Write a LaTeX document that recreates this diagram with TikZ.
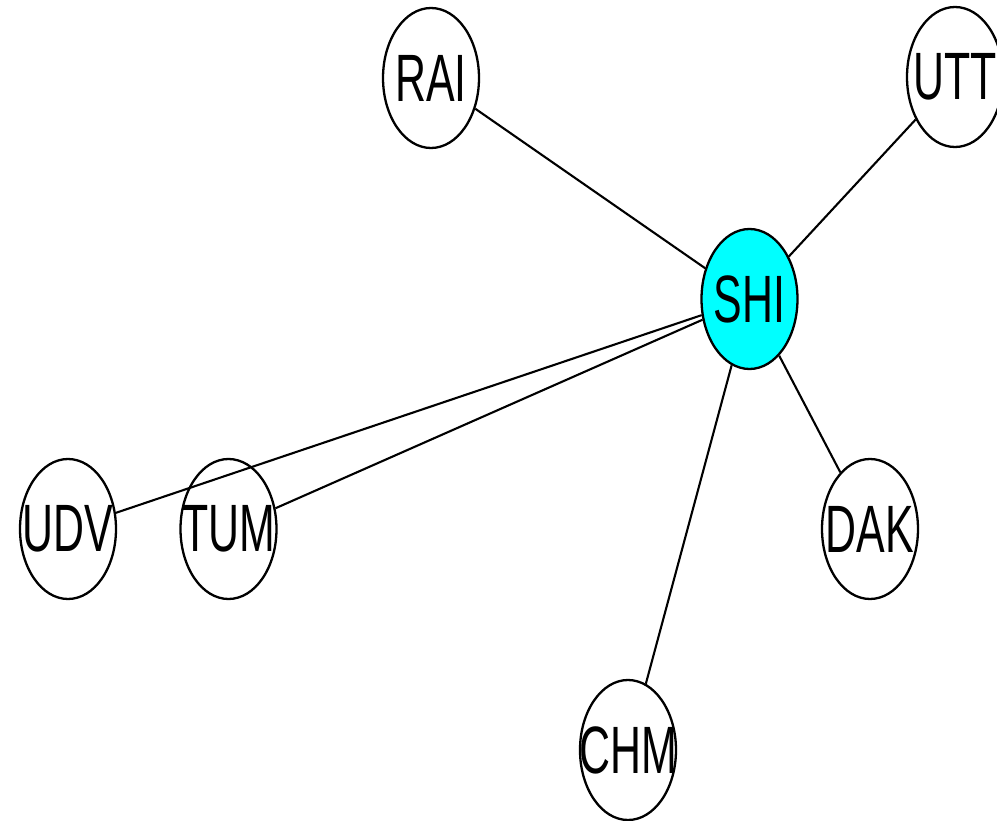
\documentclass[tikz,border=0pt]{standalone}
\usepackage{fontspec}
\setmainfont{Liberation Sans}
\usetikzlibrary{shapes.geometric}
\definecolor{hubcyan}{RGB}{0,255,255}
\begin{document}
\begin{tikzpicture}[x=1pt,y=-1pt,
  vert/.style={ellipse, draw=black, line width=2.3pt, minimum width=96pt, minimum height=140pt, inner sep=0pt},
  hub/.style={vert, fill=hubcyan},
  lbl/.style={font=\fontsize{67}{67}\selectfont},
  edge/.style={draw=black, line width=2.1pt}]
\useasboundingbox (0,0) rectangle (997,821);
\newcommand{\vtxt}[1]{\scalebox{0.64}[1]{#1}}
% vertices
\node[hub] (SHI) at (749.5,299) {};
\node[vert] (RAI) at (431,78) {};
\node[vert] (UTT) at (955,77) {};
\node[vert] (UDV) at (68,529) {};
\node[vert] (TUM) at (228.5,529) {};
\node[vert] (DAK) at (870,529) {};
\node[vert] (CHM) at (628,750) {};
% edges
\draw[edge] (RAI) -- (SHI);
\draw[edge] (UTT) -- (SHI);
\draw[edge] (UDV) -- (SHI);
\draw[edge] (TUM) -- (SHI);
\draw[edge] (SHI) -- (DAK);
\draw[edge] (SHI) -- (CHM);
% labels
\foreach \v in {SHI,RAI,UTT,UDV,TUM,DAK,CHM}
  \node[lbl, inner sep=0pt] at (\v) {\vtxt{\v}};
\end{tikzpicture}
\end{document}
